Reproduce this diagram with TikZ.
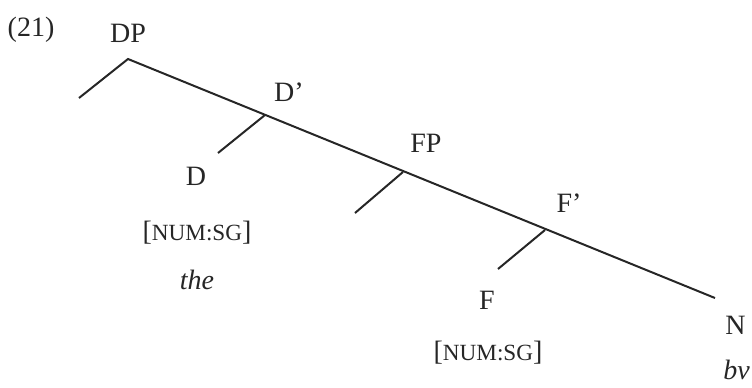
\documentclass[tikz,border=0pt]{standalone}
\usepackage{fontspec}
\setmainfont{Liberation Serif}
\usepackage{xcolor}
\usepackage{tikz}

\definecolor{ink}{HTML}{262626}
\newcommand{\fsc}[1]{{\fontsize{11.6pt}{13pt}\selectfont #1}}

\begin{document}
\begin{tikzpicture}[
    x=0.5pt, y=-0.5pt,
    every node/.style={font=\fontsize{14pt}{16pt}\selectfont, text=ink, inner sep=0pt},
    cat/.style={anchor=center},
    feat/.style={anchor=center},
    word/.style={anchor=center, font=\fontsize{14pt}{16pt}\selectfont\itshape},
    br/.style={draw=ink, line width=1pt},
]
    \useasboundingbox (0,0) rectangle (752,387);

    \node (ex) at (31,30) {(21)};

    % category labels
    \node[cat] (dp) at (128,33) {DP};
    \node[cat] (dbar) at (289,92) {D'};
    \node[cat] (d) at (196,176) {D};
    \node[cat] (fp) at (426,143) {FP};
    \node[cat] (fbar) at (569,203) {F'};
    \node[cat] (f) at (487,300) {F};
    \node[cat, anchor=west] (n) at (725,325) {N};

    % features and words
    \node[feat] (dfeat) at (197,233) {[\fsc{NUM:SG}]};
    \node[word] (the) at (197,280) {the};
    \node[feat] (ffeat) at (488,353) {[\fsc{NUM:SG}]};
    \node[word, anchor=base west] (bv) at (723,379) {bv};

    % branch points
    \coordinate (dpx) at (128,59);
    \coordinate (dpl) at (79,98);
    \coordinate (dbx) at (265,115);
    \coordinate (dl) at (218,153);
    \coordinate (fpx) at (403,172);
    \coordinate (fpl) at (355,213);
    \coordinate (fbx) at (545,230);
    \coordinate (fl) at (498,269);
    \coordinate (nend) at (715,298);

    \draw[br] (dpl) -- (dpx) -- (nend);
    \draw[br] (dbx) -- (dl);
    \draw[br] (fpx) -- (fpl);
    \draw[br] (fbx) -- (fl);
\end{tikzpicture}
\end{document}
